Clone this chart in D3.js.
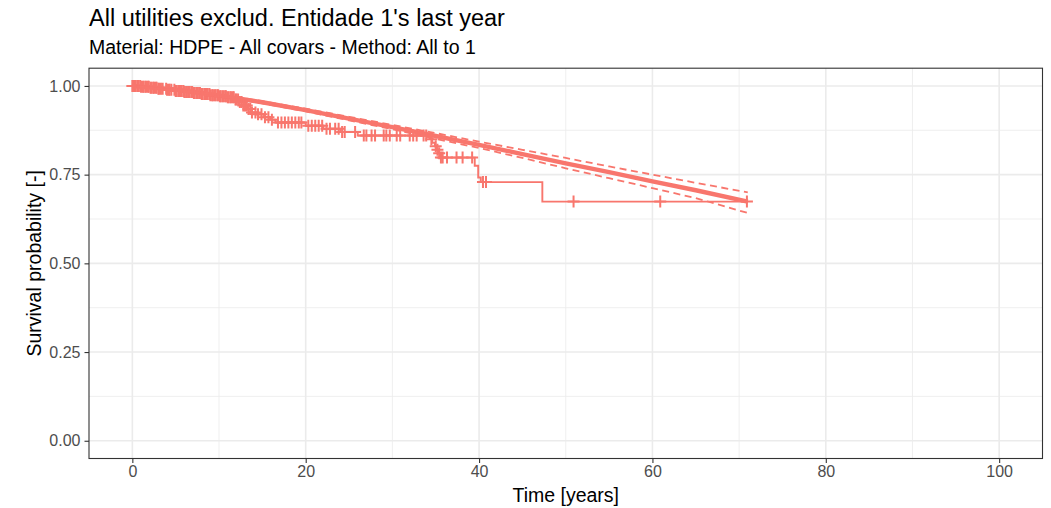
<!DOCTYPE html>
<html>
<head>
<meta charset="utf-8">
<script src="https://cdn.jsdelivr.net/npm/d3@7"></script>
<style>
  html, body { margin: 0; padding: 0; background: #fff; }
  svg { display: block; font-family: "Liberation Sans", Arial, Helvetica, sans-serif; }
</style>
</head>
<body>
<div id="chart"></div>
<script>
// Kaplan-Meier steps (time in years, survival after the step)
const kmTime = [0, 1, 2, 3, 4, 5, 6, 7, 8, 9, 10, 11, 11.8, 12.3, 12.8, 13.3, 13.8, 14.3, 15.2, 15.9, 16.5,
  20.0, 22.0, 24.0, 26.0, 34.3, 34.6, 34.9, 35.1, 35.3, 35.6, 39.5, 39.9, 40.2, 47.3];
const kmSurv = [1.0, 0.998, 0.995, 0.992, 0.989, 0.986, 0.983, 0.98, 0.977, 0.974, 0.971, 0.968, 0.962, 0.955, 0.945, 0.935, 0.925, 0.92, 0.912, 0.905, 0.897,
  0.888, 0.879, 0.87, 0.86, 0.85, 0.84, 0.83, 0.82, 0.81, 0.798, 0.775, 0.742, 0.729, 0.674];
const kmEnd = 70.9;

// censored observations
const censorTime = [
  0.0, 0.1, 0.3, 0.4, 0.6, 0.7, 0.9, 1.0, 1.2, 1.3, 1.5, 1.6, 1.8, 1.9, 2.1, 2.2, 2.4, 2.5, 2.7, 2.8,
  3.0, 3.1, 3.3, 3.5, 3.9, 4.0, 4.2, 4.3, 4.5, 4.85, 5.0, 5.1, 5.3, 5.4, 5.6, 5.7, 5.9, 6.0, 6.2, 6.3,
  6.5, 6.6, 6.8, 6.9, 7.1, 7.2, 7.4, 7.5, 7.7, 7.8, 8.0, 8.1, 8.3, 8.4, 8.6, 8.7, 8.9, 9.0, 9.2, 9.3,
  9.5, 9.6, 9.8, 9.9, 10.1, 10.2, 10.4, 10.5, 10.7, 10.8, 11.0, 11.1, 11.3, 11.4, 11.6, 11.7, 11.9,
  12.0, 12.2, 12.4, 12.6, 12.8, 13.0, 13.2, 13.4, 13.6, 13.8, 14.2, 14.5, 14.9, 15.3, 15.7, 16.1,
  16.8, 17.2, 17.6, 18.0, 18.4, 18.8, 19.2, 19.5, 20.3, 20.7, 21.1, 21.5, 21.9, 22.4, 22.8, 23.4,
  23.8, 24.2, 24.5, 25.7, 26.7, 27.0, 27.6, 28.0, 29.0, 29.3, 29.7, 30.5, 30.9, 32.0, 32.4, 32.8,
  33.6, 33.9, 34.5, 35.0, 35.2, 35.4, 35.6, 35.8, 36.3, 37.4, 38.1, 39.2, 40.45, 40.8, 50.9, 60.9, 70.9
];

// parametric fit with confidence band
const fitTime  = [0, 5, 10, 15, 20, 25, 30, 35, 40, 45, 50, 55, 60, 65, 71];
const fitSurv  = [1.0, 0.99, 0.973, 0.954, 0.932, 0.908, 0.884, 0.859, 0.834, 0.808, 0.782, 0.757, 0.731, 0.706, 0.674];
const fitUpper = [1.0, 0.992, 0.976, 0.957, 0.936, 0.913, 0.89, 0.867, 0.843, 0.82, 0.797, 0.773, 0.75, 0.727, 0.70];
const fitLower = [1.0, 0.988, 0.97, 0.951, 0.928, 0.903, 0.878, 0.851, 0.825, 0.797, 0.768, 0.74, 0.712, 0.684, 0.642];

const xMajor = [0, 20, 40, 60, 80, 100];
const xMinor = [10, 30, 50, 70, 90];
const yMajor = [0, 0.25, 0.5, 0.75, 1.0];
const yMinor = [0.125, 0.375, 0.625, 0.875];

const titleText    = "All utilities exclud. Entidade 1's last year";
const subtitleText = 'Material: HDPE - All covars - Method: All to 1';
const xLabel = 'Time [years]';
const yLabel = 'Survival probability [-]';

const W = 1051, H = 508;
const P = { left: 89, right: 1042.5, top: 68.2, bottom: 458.5 };
const COL = '#F8766D';

const svg = d3.select('#chart').append('svg').attr('width', W).attr('height', H);

const x = d3.scaleLinear().domain([-5, 105]).range([P.left, P.right]);
const y = d3.scaleLinear().domain([-0.05, 1.05]).range([P.bottom, P.top]);

// titles
svg.append('text').attr('x', P.left).attr('y', 26)
  .attr('font-size', 23.5).attr('fill', '#000').text(titleText);
svg.append('text').attr('x', P.left).attr('y', 53.5)
  .attr('font-size', 19.5).attr('fill', '#000').text(subtitleText);

// grid
const grid = svg.append('g');
grid.selectAll('.xmin').data(xMinor).join('line')
  .attr('x1', d => x(d)).attr('x2', d => x(d)).attr('y1', P.top).attr('y2', P.bottom)
  .attr('stroke', '#EBEBEB').attr('stroke-width', 0.8);
grid.selectAll('.ymin').data(yMinor).join('line')
  .attr('y1', d => y(d)).attr('y2', d => y(d)).attr('x1', P.left).attr('x2', P.right)
  .attr('stroke', '#EBEBEB').attr('stroke-width', 0.8);
grid.selectAll('.xmaj').data(xMajor).join('line')
  .attr('x1', d => x(d)).attr('x2', d => x(d)).attr('y1', P.top).attr('y2', P.bottom)
  .attr('stroke', '#EBEBEB').attr('stroke-width', 1.6);
grid.selectAll('.ymaj').data(yMajor).join('line')
  .attr('y1', d => y(d)).attr('y2', d => y(d)).attr('x1', P.left).attr('x2', P.right)
  .attr('stroke', '#EBEBEB').attr('stroke-width', 1.6);

const plot = svg.append('g');

// confidence band (dashed)
const fitLine = arr => d3.line().x((d, i) => x(fitTime[i])).y(d => y(d))(arr);
[fitUpper, fitLower].forEach(arr => {
  plot.append('path').attr('d', fitLine(arr))
    .attr('fill', 'none').attr('stroke', COL).attr('stroke-width', 1.8)
    .attr('stroke-dasharray', '7,4.5');
});

// fitted curve
plot.append('path').attr('d', fitLine(fitSurv))
  .attr('fill', 'none').attr('stroke', COL).attr('stroke-width', 4.4);

// KM step curve
const kmPts = kmTime.map((t, i) => [t, kmSurv[i]]);
kmPts.push([kmEnd, kmSurv[kmSurv.length - 1]]);
plot.append('path')
  .attr('d', d3.line().curve(d3.curveStepAfter).x(d => x(d[0])).y(d => y(d[1]))(kmPts))
  .attr('fill', 'none').attr('stroke', COL).attr('stroke-width', 1.9);

// censor marks
const bis = d3.bisector(d => d).right;
const survAt = t => kmSurv[Math.max(0, bis(kmTime, t) - 1)];
const half = 6;
plot.selectAll('.cens').data(censorTime).join('path')
  .attr('d', t => {
    const cx = x(t), cy = y(survAt(t));
    return `M${cx - half},${cy}H${cx + half}M${cx},${cy - half}V${cy + half}`;
  })
  .attr('stroke', COL).attr('stroke-width', 2).attr('fill', 'none');

// panel border
svg.append('rect').attr('x', P.left).attr('y', P.top)
  .attr('width', P.right - P.left).attr('height', P.bottom - P.top)
  .attr('fill', 'none').attr('stroke', '#333333').attr('stroke-width', 1.1);

// axes
svg.append('g').attr('transform', `translate(0,${P.bottom})`)
  .call(d3.axisBottom(x).tickValues(xMajor).tickFormat(d3.format('d')).tickSize(4.5).tickPadding(3))
  .call(g => g.select('.domain').remove())
  .call(g => g.selectAll('line').attr('stroke', '#333333').attr('stroke-width', 1.1))
  .call(g => g.selectAll('text').attr('fill', '#4D4D4D').attr('font-size', 16)
    .attr('font-family', '"Liberation Sans", Arial, sans-serif'));

svg.append('g').attr('transform', `translate(${P.left},0)`)
  .call(d3.axisLeft(y).tickValues(yMajor).tickFormat(d3.format('.2f')).tickSize(4.5).tickPadding(4))
  .call(g => g.select('.domain').remove())
  .call(g => g.selectAll('line').attr('stroke', '#333333').attr('stroke-width', 1.1))
  .call(g => g.selectAll('text').attr('fill', '#4D4D4D').attr('font-size', 16)
    .attr('font-family', '"Liberation Sans", Arial, sans-serif'));

// axis titles
svg.append('text').attr('x', (P.left + P.right) / 2).attr('y', 502)
  .attr('text-anchor', 'middle').attr('font-size', 19.5).attr('fill', '#000').text(xLabel);
svg.append('text')
  .attr('transform', `translate(41,${(P.top + P.bottom) / 2}) rotate(-90)`)
  .attr('text-anchor', 'middle').attr('font-size', 19.5).attr('fill', '#000').text(yLabel);
</script>
</body>
</html>
